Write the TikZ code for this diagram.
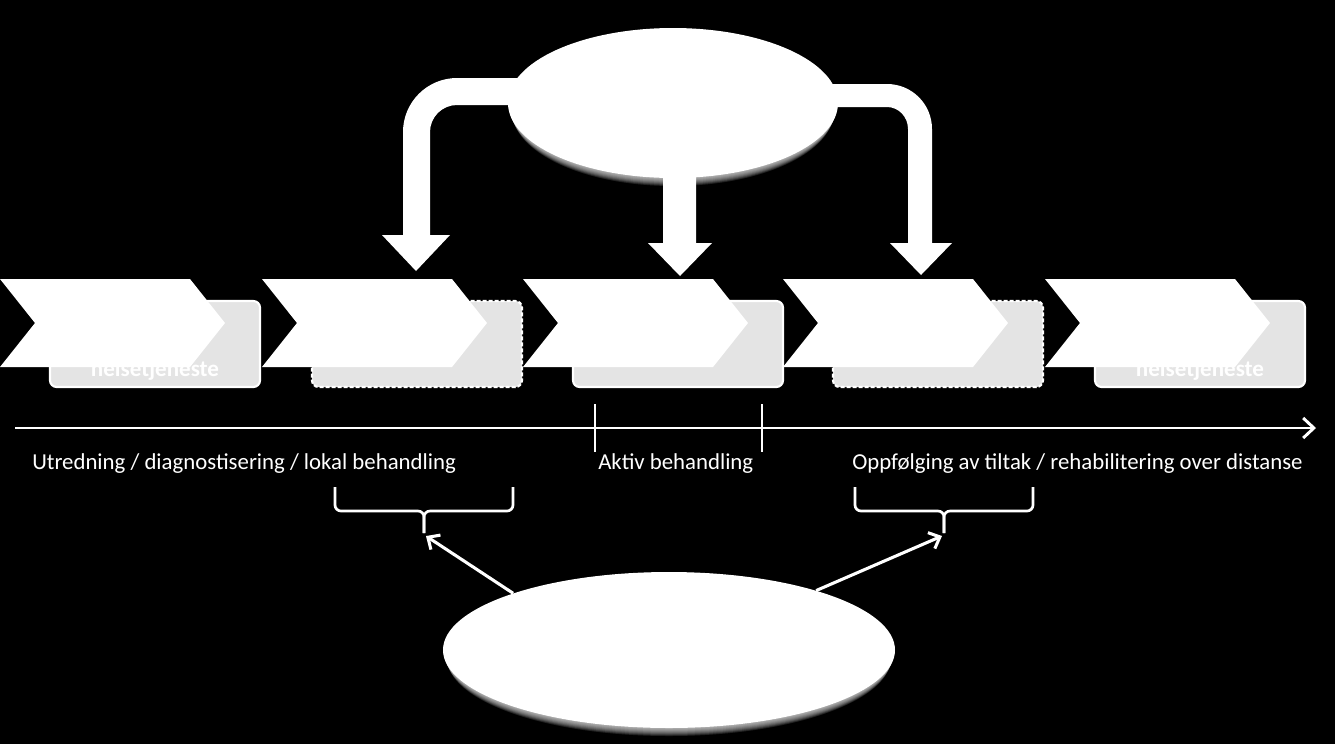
\documentclass[tikz,border=0pt]{standalone}
\usepackage{fontspec}
\setmainfont{Carlito}
\usetikzlibrary{shapes.geometric,arrows.meta}
\definecolor{boxgrey}{HTML}{E4E4E4}
\tikzset{
  chev/.style={fill=white},
  gbox/.style={fill=boxgrey,draw=white,line width=1.6pt,rounded corners=5pt},
  gboxdash/.style={gbox,dash pattern=on 3pt off 1.5pt},
  boxtxt/.style={text=white,font=\bfseries\fontsize{17.3}{20}\selectfont,inner sep=0pt},
  lbl/.style={text=white,font=\fontsize{17.1}{20}\selectfont,inner sep=0pt},
  axis/.style={draw=white,line width=2.2pt},
  tick/.style={draw=white,line width=2pt},
  bracestyle/.style={draw=white,line width=2pt,rounded corners=4.5pt},
  ptr/.style={draw=white,line width=2.3pt,-{Straight Barb[length=7pt,width=13pt,line width=2.3pt]}},
  bigell/.style={ellipse,fill=white,inner sep=0pt},
  bigarrow/.style={fill=white},
}
\begin{document}
\begin{tikzpicture}[x=0.75pt,y=-0.75pt]
\fill[black] (0,0) rectangle (1335,744);
\useasboundingbox (0,0) rectangle (1335,744);

% grey boxes
\foreach \x/\st in {0/gbox,262/gboxdash,523/gbox,783/gboxdash,1045/gbox}{
  \path[\st] (\x+50,301) rectangle (\x+260,387);
}
\node[boxtxt,anchor=base] (h1) at (155,376) {helsetjeneste};
\node[boxtxt,anchor=base] (h5) at (1200,376) {helsetjeneste};

% chevrons
\foreach \x in {0,262,523,783,1045}{
  \fill[chev] (\x,279) -- (\x+190,279) -- (\x+225,323) -- (\x+190,367) -- (\x,367) -- (\x+35,323) -- cycle;
}

% big arrows from top ellipse
\fill[bigarrow] (560,78) -- (457,78) .. controls (427.2,78) and (403,102.2) .. (403,132)
  -- (403,235) -- (382,235) -- (416,271) -- (450,235) -- (430,235) -- (430,132)
  .. controls (430,117.1) and (442.1,105) .. (457,105) -- (560,105) -- cycle;
\fill[bigarrow] (780,84) -- (887,84) .. controls (911.9,84) and (932,104.1) .. (932,129)
  -- (932,243) -- (952,243) -- (921,275) -- (890,243) -- (908,243) -- (908,129)
  .. controls (908,116.8) and (898.6,107) .. (887,107) -- (780,107) -- cycle;
\fill[bigarrow] (663,150) -- (663,243) -- (648,243) -- (680,276) -- (712,243) -- (696,243) -- (696,150) -- cycle;

% top ellipse with soft lower edge
\foreach \i in {1,...,8}{
  \fill[white,opacity=0.13] (673,103+\i) ellipse [x radius=165-0.5*\i, y radius=75];
}
\node[bigell,minimum width=247.5pt,minimum height=112.5pt] (top) at (673,103) {};

% timeline
\coordinate (ax0) at (15,428);
\coordinate (ax1) at (1316,428);
\draw[axis,-{Straight Barb[length=8pt,width=15pt,line width=2.2pt]}] (ax0) -- (ax1);
\coordinate (t1a) at (595,404); \coordinate (t1b) at (595,452);
\coordinate (t2a) at (762,404); \coordinate (t2b) at (762,452);
\draw[tick] (t1a) -- (t1b);
\draw[tick] (t2a) -- (t2b);

\node[lbl,anchor=base west] (l1) at (32,469) {Utredning / diagnostisering / lokal behandling};
\node[lbl,anchor=base west] (l2) at (598,469) {Aktiv behandling};
\node[lbl,anchor=base west] (l3) at (852,469) {Oppfølging av tiltak / rehabilitering over distanse};

% braces
\coordinate (lbm) at (424,533);
\coordinate (rbm) at (944,533);
\draw[bracestyle] (335,487) -- (335,511) -- (424,511) -- (lbm);
\draw[bracestyle] (513,487) -- (513,511) -- (424,511) -- (lbm);
\draw[bracestyle] (855,487) -- (855,511) -- (944,511) -- (rbm);
\draw[bracestyle] (1033,487) -- (1033,511) -- (944,511) -- (rbm);

% bottom ellipse with soft lower edge
\foreach \i in {1,...,8}{
  \fill[white,opacity=0.13] (669,650+\i) ellipse [x radius=226-0.5*\i, y radius=78];
}
\node[bigell,minimum width=339pt,minimum height=117pt] (bot) at (669,650) {};

\coordinate (lbt) at (426,536);
\coordinate (rbt) at (942,536);
\draw[ptr] (bot.160) -- (lbt);
\draw[ptr] (bot.22) -- (rbt);
\end{tikzpicture}
\end{document}
